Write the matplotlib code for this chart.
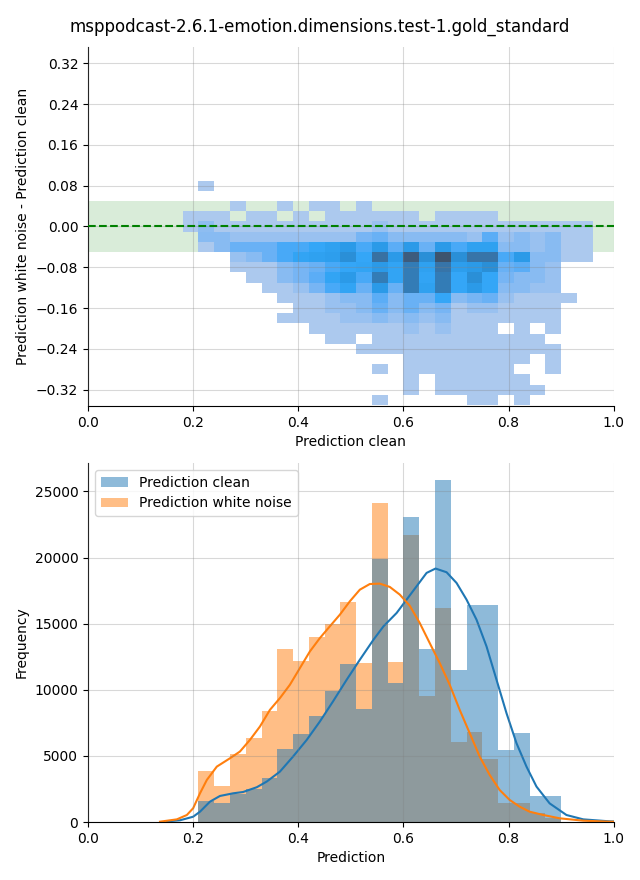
import numpy as np
import matplotlib
matplotlib.use('Agg')
import matplotlib.pyplot as plt
from matplotlib.colors import to_rgba, ListedColormap
from matplotlib.ticker import MultipleLocator
from seaborn.external import husl

title = 'msppodcast-2.6.1-emotion.dimensions.test-1.gold_standard'

# --- top panel: 2D histogram of (clean, noise - clean) ---
# x bins 0.18 .. 0.96 (width 0.03), y bins -0.35 .. 0.09 (width 0.02)
x_edges = np.round(np.arange(0.18, 0.96 + 0.001, 0.03), 3)
y_edges = np.round(np.arange(-0.35, 0.09 + 0.001, 0.02), 3)

# counts per cell, rows from bottom (-0.34) to top (0.08), 26 columns each
counts = [
    [0,0,0,0,0,0,0,0,0,0,0,0,1,0,0,0,0,0,1,1,0,1,0,0,0,0],          # -0.34
    [0,0,0,0,0,0,0,0,0,0,0,0,0,0,1,0,1,1,1,1,1,1,1,0,0,0],          # -0.32
    [0,0,0,0,0,0,0,0,0,0,0,0,0,0,1,0,1,1,1,1,1,1,0,0,0,0],          # -0.30
    [0,0,0,0,0,0,0,0,0,0,0,0,1,0,1,1,1,1,1,1,1,0,0,1,0,0],          # -0.28
    [0,0,0,0,0,0,0,0,0,0,0,0,0,0,1,1,1,1,1,1,1,1,0,1,0,0],          # -0.26
    [0,0,0,0,0,0,0,0,0,0,0,1,1,1,1,1,1,1,1,1,1,1,1,1,0,0],          # -0.24
    [0,0,0,0,0,0,0,0,0,1,1,0,1,1,1,1,1,1,1,1,1,1,1,0,0,0],          # -0.22
    [0,0,0,0,0,0,0,0,1,1,1,1,1,1,8,1,8,1,1,1,0,1,0,1,0,0],          # -0.20
    [0,0,0,0,0,0,1,1,1,1,8,8,14,8,14,8,14,1,1,1,1,1,1,1,0,0],       # -0.18
    [0,0,0,0,0,0,0,1,1,8,8,14,23,14,23,14,19,1,8,8,1,1,1,1,0,0],    # -0.16
    [0,0,0,0,0,0,1,1,1,8,14,14,26,14,23,23,33,14,19,23,8,1,1,1,1,0], # -0.14
    [0,0,0,0,0,1,1,8,19,30,35,23,42,23,67,37,67,33,42,33,14,14,8,8,0,0],   # -0.12
    [0,0,0,0,1,1,14,19,26,35,42,30,67,35,67,35,67,33,51,33,19,14,14,8,0,0], # -0.10
    [0,0,0,1,1,1,14,19,23,30,33,35,42,35,67,37,73,39,42,51,23,26,14,8,0,0], # -0.08
    [0,0,0,8,14,23,30,35,37,39,51,33,76,42,93,51,100,51,73,73,30,42,14,14,1,1], # -0.06
    [0,1,14,23,23,23,30,30,33,37,42,30,42,26,42,23,42,30,37,37,14,14,8,14,1,1], # -0.04
    [0,14,14,8,8,8,8,8,8,8,8,19,23,14,14,14,14,14,8,26,8,14,8,14,1,1],        # -0.02
    [1,12,1,1,1,1,1,1,1,1,1,1,8,1,1,1,1,1,1,1,1,1,1,1,1,1],                   # 0.00
    [1,1,1,0,1,1,0,1,0,1,1,1,1,1,1,0,1,1,1,1,0,0,0,0,0,0],                    # 0.02
    [0,0,0,1,0,0,1,0,1,1,0,1,0,0,0,0,0,0,0,0,0,0,0,0,0,0],                    # 0.04
    [0,0,0,0,0,0,0,0,0,0,0,0,0,0,0,0,0,0,0,0,0,0,0,0,0,0],                    # 0.06
    [0,1,0,0,0,0,0,0,0,0,0,0,0,0,0,0,0,0,0,0,0,0,0,0,0,0],                    # 0.08
]

# --- bottom panel: histograms + KDE ---
bin_edges = np.round(np.arange(0.21, 0.90 + 0.001, 0.03), 3)
clean_counts = [1590, 1420, 2130, 2500, 3360, 5530, 6670, 8030, 9920, 11970,
                8560, 19920, 10530, 23100, 13100, 25830, 11510, 16440, 16440,
                5450, 6740, 1970, 1970]
noise_counts = [3860, 2730, 5150, 6360, 8410, 13100, 12200, 13960, 15000, 16670,
                12040, 24090, 12120, 21740, 9550, 16210, 6060, 6820, 4770,
                1440, 1440, 700, 300]

kde_clean_x = [0.150, 0.175, 0.200, 0.213, 0.232, 0.251, 0.276, 0.295, 0.321,
               0.340, 0.365, 0.390, 0.416, 0.441, 0.466, 0.492, 0.517, 0.543,
               0.562, 0.587, 0.606, 0.625, 0.644, 0.661, 0.682, 0.701, 0.720,
               0.739, 0.758, 0.777, 0.796, 0.815, 0.834, 0.853, 0.878, 0.910,
               0.942, 0.992, 1.02]
kde_clean_y = [50, 130, 400, 780, 1540, 1970, 2170, 2270, 2630,
               3060, 3810, 4950, 6210, 7600, 9120, 10760, 12270, 13790,
               14800, 15810, 16820, 17830, 18840, 19170, 18890, 18080, 16820,
               15300, 13280, 10760, 8230, 5960, 4190, 2680, 1410, 530,
               200, 50, 20]
kde_noise_x = [0.137, 0.169, 0.188, 0.200, 0.213, 0.226, 0.245, 0.270, 0.289,
               0.308, 0.327, 0.346, 0.365, 0.384, 0.403, 0.422, 0.441, 0.460,
               0.479, 0.498, 0.517, 0.536, 0.555, 0.574, 0.593, 0.612, 0.631,
               0.650, 0.669, 0.688, 0.707, 0.726, 0.745, 0.764, 0.783, 0.802,
               0.821, 0.840, 0.866, 0.897, 0.942, 0.992, 1.02]
kde_noise_y = [25, 200, 530, 1040, 2170, 3180, 4190, 4820, 5330,
               6210, 7220, 8480, 9370, 10380, 11640, 12900, 13910, 14800,
               15680, 16690, 17570, 18000, 18030, 17780, 17200, 16360, 15050,
               13530, 12020, 10380, 8480, 6720, 4950, 3560, 2420, 1670,
               1160, 780, 530, 280, 100, 25, 15]

blue = '#1f77b4'
orange = '#ff7f0e'


def seed_cmap(color):
    # sequential map seeded from a single colour (as seaborn's 2D histplot)
    r, g, b, _ = to_rgba(color)
    h, s, _ = husl.rgb_to_husl(r, g, b)
    xx = np.linspace(-1, 1, int(1.15 * 256))[:256]
    ramp = np.zeros((256, 3))
    ramp[:, 0] = h
    ramp[:, 1] = s * np.cos(xx)
    ramp[:, 2] = np.linspace(35, 80, 256)
    cols = np.clip([husl.husl_to_rgb(*hsl) for hsl in ramp], 0, 1)
    return ListedColormap(cols[::-1])


fig, (ax1, ax2) = plt.subplots(2, 1, figsize=(6.4, 8.8), dpi=100)
fig.subplots_adjust(left=0.1375, right=0.959, top=0.9466, bottom=0.0659, hspace=0.159)
fig.suptitle(title, fontsize=12)

# top
grid = np.ma.masked_less_equal(np.array(counts, dtype=float), 0)
ax1.axhspan(-0.05, 0.05, color='green', alpha=0.15, linewidth=0, zorder=0)
ax1.pcolormesh(x_edges, y_edges, grid, cmap=seed_cmap(blue), zorder=1)
ax1.axhline(0, color='green', linestyle='--', linewidth=1.5, zorder=3)
ax1.set_xlim(0, 1)
ax1.set_ylim(-0.352, 0.352)
ax1.yaxis.set_major_locator(MultipleLocator(0.08))
ax1.set_xlabel('Prediction clean')
ax1.set_ylabel('Prediction white noise - Prediction clean')

# bottom
w = np.diff(bin_edges)
ax2.bar(bin_edges[:-1], noise_counts, width=w, align='edge', color=orange,
        alpha=0.5, linewidth=0, label='Prediction white noise', zorder=1)
ax2.bar(bin_edges[:-1], clean_counts, width=w, align='edge', color=blue,
        alpha=0.5, linewidth=0, label='Prediction clean', zorder=1)
ax2.plot(kde_clean_x, kde_clean_y, color=blue, linewidth=1.5, zorder=2)
ax2.plot(kde_noise_x, kde_noise_y, color=orange, linewidth=1.5, zorder=2)
ax2.set_xlim(0, 1)
ax2.set_ylim(0, 27150)
ax2.set_xlabel('Prediction')
ax2.set_ylabel('Frequency')
h, l = ax2.get_legend_handles_labels()
ax2.legend(h[::-1], l[::-1], loc='upper left')

for ax in (ax1, ax2):
    ax.grid(True, color='gray', alpha=0.3, linewidth=0.8, zorder=4)
    ax.set_axisbelow(False)
    ax.spines['top'].set_visible(False)
    ax.spines['right'].set_visible(False)

fig.savefig('out.png', dpi=100)
